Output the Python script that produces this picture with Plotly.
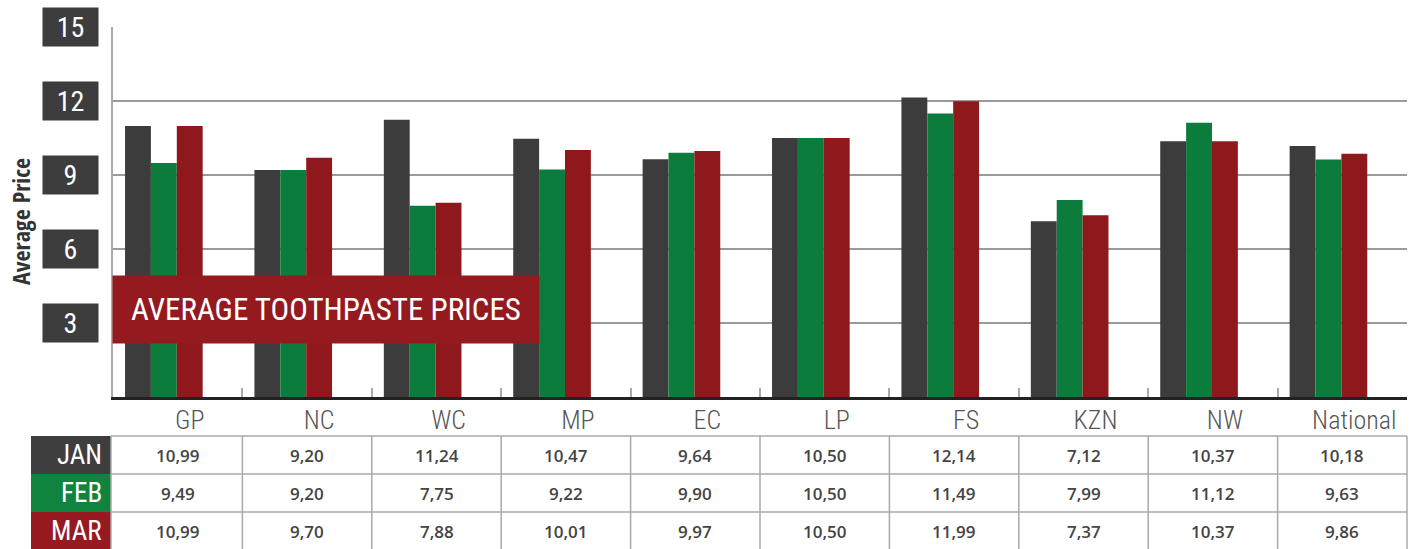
import plotly.graph_objects as go

categories = ["GP", "NC", "WC", "MP", "EC", "LP", "FS", "KZN", "NW", "National"]
jan = [10.99, 9.20, 11.24, 10.47, 9.64, 10.50, 12.14, 7.12, 10.37, 10.18]
feb = [9.49, 9.20, 7.75, 9.22, 9.90, 10.50, 11.49, 7.99, 11.12, 9.63]
mar = [10.99, 9.70, 7.88, 10.01, 9.97, 10.50, 11.99, 7.37, 10.37, 9.86]
months = ["JAN", "FEB", "MAR"]
y_ticks = [3, 6, 9, 12, 15]
title_text = "AVERAGE TOOTHPASTE PRICES"
y_title = "Average Price"

series = [jan, feb, mar]
bar_colors = ["#3c3c3c", "#0c7c3d", "#8f181d"]
cell_colors = ["#3e3e3e", "#10843f", "#961a20"]
offsets = [-0.407, -0.207, -0.007]

NARROW = "Roboto Condensed"
W, H = 1427, 549
L, R, T, B = 113, 20, 27, 152
PW, PH = W - L - R, H - T - B


def px(x):
    return (x - L) / PW


def py(y):
    return (H - B - y) / PH


fig = go.Figure()
for name, vals, col, off in zip(months, series, bar_colors, offsets):
    fig.add_trace(go.Bar(x=categories, y=vals, name=name, marker_color=col,
                         marker_line_width=0, width=0.2, offset=off))

annotations = []
shapes = []

# y tick boxes
for t in y_ticks:
    annotations.append(dict(x=px(70.5), xref="paper", y=t, yref="y", text=str(t),
                            showarrow=False, bgcolor="#3d3d3d", width=55, height=38,
                            borderpad=0, font=dict(family=NARROW, size=28, color="white"),
                            xanchor="center", yanchor="middle"))

# y title
annotations.append(dict(x=px(21), y=py(222), xref="paper", yref="paper", text="<b>" + y_title + "</b>",
                        textangle=-90, showarrow=False,
                        font=dict(family="Open Sans Condensed", size=24, color="#333"),
                        xanchor="center", yanchor="middle"))

# title box
annotations.append(dict(x=px(112), y=py(309.5), xref="paper", yref="paper", text=title_text,
                        showarrow=False, bgcolor="#951a1f", width=426, height=67, borderpad=0,
                        font=dict(family=NARROW, size=31, color="white"),
                        xanchor="left", yanchor="middle", align="center"))

# table
n = len(categories)
row_top = 436
row_h = 38
grid_col = "#aaaaaa"
for r, (m, vals, col) in enumerate(zip(months, series, cell_colors)):
    y0 = row_top + r * row_h
    y1 = y0 + row_h
    shapes.append(dict(type="rect", xref="paper", yref="paper", x0=px(31), x1=px(111),
                       y0=py(y1), y1=py(y0), fillcolor=col, line_width=0, layer="above"))
    annotations.append(dict(x=px(104), y=py((y0 + y1) / 2), xref="paper", yref="paper", text=m,
                            showarrow=False, xanchor="right", yanchor="middle",
                            font=dict(family=NARROW, size=27, color="white")))
    for i, v in enumerate(vals):
        annotations.append(dict(x=(i + 0.5) / n, y=py((y0 + y1) / 2), xref="paper", yref="paper",
                                text=f"{v:.2f}".replace(".", ","), showarrow=False,
                                xanchor="center", yanchor="middle",
                                font=dict(family="Open Sans", size=17, color="#444", weight=600)))
# horizontal table lines
for r in range(len(months) + 1):
    yy = row_top + r * row_h
    shapes.append(dict(type="line", xref="paper", yref="paper", x0=px(111), x1=1,
                       y0=py(yy), y1=py(yy), line=dict(color=grid_col, width=1.5)))
# vertical table lines
for i in range(n + 1):
    xx = i / n if i > 0 else px(111)
    shapes.append(dict(type="line", xref="paper", yref="paper", x0=xx, x1=xx,
                       y0=py(row_top), y1=py(row_top + len(months) * row_h),
                       line=dict(color=grid_col, width=1.5)))

fig.update_layout(
    width=W, height=H,
    margin=dict(l=L, r=R, t=T, b=B, pad=0, autoexpand=False),
    paper_bgcolor="white", plot_bgcolor="white",
    barmode="overlay", showlegend=False,
    annotations=annotations, shapes=shapes,
    xaxis=dict(type="category", range=[-0.5, n - 0.5], showgrid=False,
               showline=True, linecolor="#222", linewidth=3,
               ticks="inside", tickson="boundaries", ticklen=9, tickcolor="#aaa", tickwidth=2,
               tickfont=dict(family=NARROW, size=26, color="#555", weight=300),
               ticklabelshift=12, ticklabelstandoff=-2),
    yaxis=dict(range=[0, 15], tickvals=y_ticks, showticklabels=False,
               showgrid=True, gridcolor="#9a9a9a", gridwidth=1.5,
               showline=True, linecolor="#aaa", linewidth=2, zeroline=False, ticks=""),
)

fig.write_html("out.html", config={"displayModeBar": False},
               post_script="document.body.style.margin='0';document.body.style.overflow='hidden';")
